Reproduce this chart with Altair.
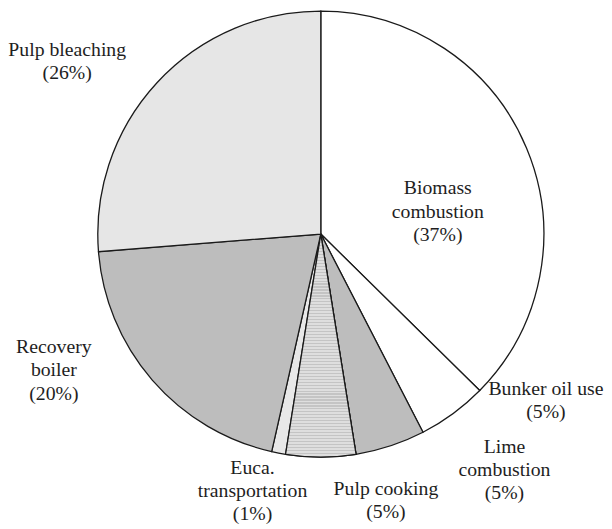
import math
import altair as alt
import pandas as pd

# ---- data ----
categories = ["Biomass combustion", "Bunker oil use", "Lime combustion", "Pulp cooking",
              "Euca. transportation", "Recovery boiler", "Pulp bleaching"]
values = [37, 5, 5, 5, 1, 20, 26]
label_lines = ["Biomass\ncombustion", "Bunker oil use", "Lime\ncombustion", "Pulp cooking",
               "Euca.\ntransportation", "Recovery\nboiler", "Pulp bleaching"]

# ---- styling ----
fills = ["#ffffff", "#ffffff", "#bdbdbd", "#d9d9d9", "#e8e8e8", "#bdbdbd", "#e6e6e6"]
CX, CY, R = 317, 225.6, 226
FONT = "Liberation Serif"
LH = 23.5
# per-label layout: (radius, dx, dy) -> dy targets the centre of the text block
label_layout = {
    "Biomass combustion": (121, 7, 24),
    "Bunker oil use": (260, 74, -41),
    "Lime combustion": (260, 105, -8),
    "Pulp cooking": (260, 66, 10),
    "Euca. transportation": (260, -20, 5),
    "Recovery boiler": (260, -74, -32),
    "Pulp bleaching": (260, -66, 2),
}

total = sum(values)
labels = [f"{l}\n({v}%)" for l, v in zip(label_lines, values)]
df = pd.DataFrame({
    "category": categories,
    "value": values,
    "label": labels,
})
df["end"] = df["value"].cumsum()
df["start"] = df["end"] - df["value"]
df["mid"] = (df["start"] + df["end"]) / 2

theta_scale = alt.Scale(domain=[0, total])
base = alt.Chart(df)

arcs = base.mark_arc(outerRadius=R, stroke="#1a1a1a", strokeWidth=1.3).encode(
    theta=alt.Theta("start:Q", scale=theta_scale),
    theta2="end:Q",
    color=alt.Color("category:N", scale=alt.Scale(domain=categories, range=fills), legend=None),
    x=alt.value(CX),
    y=alt.value(CY),
)

# horizontal hatch on the "Pulp cooking" slice via a striped gradient
n_stripes = 75
p = 1.0 / n_stripes
stops = []
for k in range(n_stripes):
    a = k * p
    b = a + p * 0.62
    stops += [
        alt.GradientStop(offset=a, color="#dedede"),
        alt.GradientStop(offset=b, color="#dedede"),
        alt.GradientStop(offset=b, color="#c4c4c4"),
        alt.GradientStop(offset=min(a + p, 1.0), color="#c4c4c4"),
    ]
hatch_fill = alt.Gradient(gradient="linear", stops=stops, x1=0, x2=0, y1=0, y2=1)

hatch = base.transform_filter(alt.datum.category == "Pulp cooking").mark_arc(
    outerRadius=R, fill=hatch_fill, stroke="#1a1a1a", strokeWidth=1.3
).encode(
    theta=alt.Theta("start:Q", scale=theta_scale),
    theta2="end:Q",
    x=alt.value(CX),
    y=alt.value(CY),
)

texts = []
for cat, lab in zip(categories, labels):
    r, dx, dy = label_layout[cat]
    n_lines = lab.count("\n") + 1
    dy_first = dy - (n_lines - 1) * LH / 2
    texts.append(
        base.transform_filter(alt.datum.category == cat).mark_text(
            radius=r, dx=dx, dy=dy_first, font=FONT, fontSize=20, lineBreak="\n",
            lineHeight=LH, align="center", baseline="middle", color="#1e1e1e"
        ).encode(
            theta=alt.Theta("mid:Q", scale=theta_scale),
            text="label:N",
            x=alt.value(CX),
            y=alt.value(CY),
        )
    )

chart = alt.layer(arcs, hatch, *texts).properties(
    width=604, height=521, padding=0, autosize="none", background="white"
).configure_view(stroke=None)

chart.save("out.html", embed_options={"renderer": "svg", "actions": False})
